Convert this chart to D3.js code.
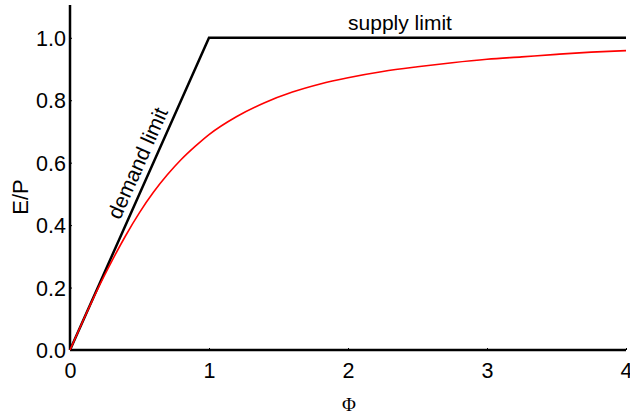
<!DOCTYPE html>
<html><head><meta charset="utf-8">
<script src="https://cdn.jsdelivr.net/npm/d3@7"></script>
<style>body{margin:0;background:#fff}svg{display:block}text{font-family:"Liberation Sans",Arial,Helvetica,sans-serif}</style>
</head><body>
<script>
const xTicks = [0, 1, 2, 3, 4];
const yTicks = [0, 0.2, 0.4, 0.6, 0.8, 1.0];
const limitPhi = [0, 1, 4];
const limitVal = [0, 1, 1];
const curvePhi = [0, 0.1, 0.2, 0.3, 0.4, 0.5, 0.6, 0.7, 0.8, 0.9, 1.0, 1.2, 1.4, 1.6, 1.8, 2.0, 2.25, 2.5, 2.75, 3.0, 3.25, 3.5, 3.75, 4.0];
const curveVal = [0, 0.1, 0.196, 0.284, 0.366, 0.44, 0.505, 0.561, 0.61, 0.652, 0.69, 0.748, 0.792, 0.826, 0.852, 0.872, 0.892, 0.907, 0.92, 0.931, 0.939, 0.947, 0.954, 0.959];

const W = 630, H = 417;
const svg = d3.select("body").append("svg").attr("width", W).attr("height", H);
const x = d3.scaleLinear().domain([0, 4]).range([70, 626]);
const y = d3.scaleLinear().domain([0, 1.105]).range([350, 5]);

// axes
const xAxis = d3.axisBottom(x).tickValues(xTicks).tickSize(-2).tickPadding(13).tickFormat(d3.format("d"));
const yAxis = d3.axisLeft(y).tickValues(yTicks).tickSize(-2).tickPadding(4).tickFormat(d3.format(".1f"));
const gx = svg.append("g").attr("transform", `translate(0,${y(0)})`).call(xAxis);
const gy = svg.append("g").attr("transform", `translate(${x(0)},0)`).call(yAxis);
[gx, gy].forEach(g => {
  g.select(".domain").remove();
  g.selectAll(".tick line").attr("stroke", "#000").attr("stroke-width", 1);
  g.selectAll(".tick text").attr("font-size", 21.5).attr("fill", "#000");
});
gx.selectAll(".tick text").attr("dy", "0.71em");
gy.selectAll(".tick text").attr("dy", "0.36em");
svg.append("line").attr("x1", x(0)).attr("x2", x(0)).attr("y1", y(1.105)).attr("y2", y(0))
  .attr("stroke", "#000").attr("stroke-width", 2.5);
svg.append("line").attr("x1", x(0)).attr("x2", x(4)).attr("y1", y(0)).attr("y2", y(0))
  .attr("stroke", "#000").attr("stroke-width", 2.5);

// limits
const line = d3.line().x(d => x(d[0])).y(d => y(d[1]));
svg.append("path").datum(limitPhi.map((p, i) => [p, limitVal[i]]))
  .attr("d", line).attr("fill", "none").attr("stroke", "#000").attr("stroke-width", 2.5);

// curve
const cline = d3.line().x(d => x(d[0])).y(d => y(d[1])).curve(d3.curveMonotoneX);
svg.append("path").datum(curvePhi.map((p, i) => [p, curveVal[i]]))
  .attr("d", cline).attr("fill", "none").attr("stroke", "#ff0000").attr("stroke-width", 1.6);

// labels
svg.append("text").attr("x", 400).attr("y", 30).attr("text-anchor", "middle").attr("font-size", 21).text("supply limit");
const ang = Math.atan2(y(0) - y(1), x(1) - x(0)) * 180 / Math.PI;
const rad = ang * Math.PI / 180;
const off = 7;
svg.append("text")
  .attr("transform", `translate(${x(0.58) - off * Math.sin(rad)},${y(0.58) - off * Math.cos(rad)}) rotate(${-ang})`)
  .attr("text-anchor", "middle").attr("font-size", 21).text("demand limit");
svg.append("text").attr("transform", `translate(28,197) rotate(-90)`).attr("text-anchor", "middle").attr("font-size", 22).text("E/P");
svg.append("text").attr("x", 349).attr("y", 411).attr("text-anchor", "middle").attr("font-size", 19)
  .style("font-family", "'Liberation Serif','DejaVu Serif',serif").text("Φ");
</script>
</body></html>
